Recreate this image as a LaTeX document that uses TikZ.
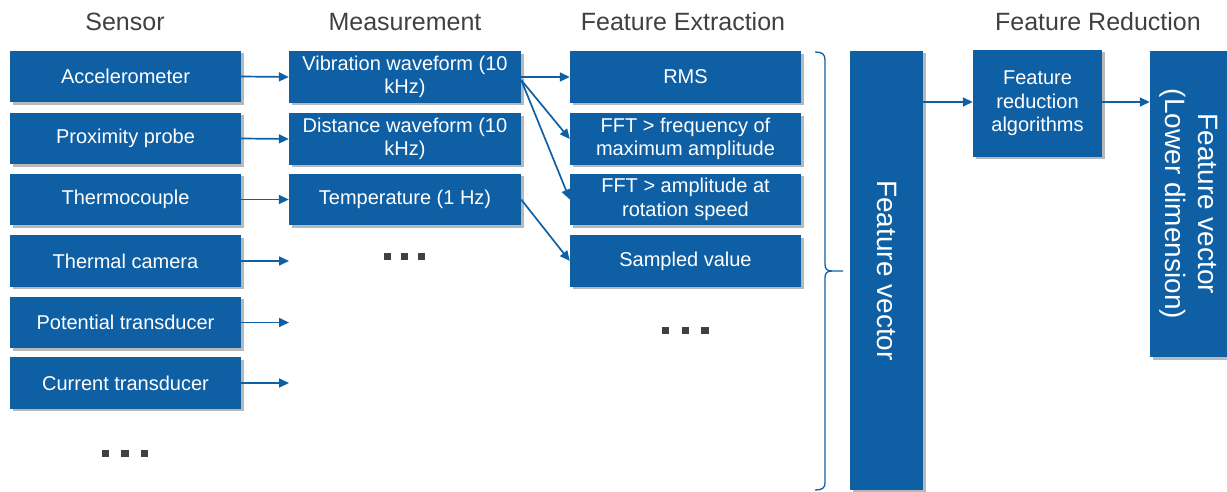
\documentclass[tikz,border=0pt]{standalone}
\usepackage{fontspec}
\setmainfont{Liberation Sans}
\usetikzlibrary{arrows.meta,shadows}
\definecolor{boxblue}{HTML}{0F5FA5}
\definecolor{headgray}{HTML}{404040}
\definecolor{dotgray}{HTML}{414141}

\begin{document}
\begin{tikzpicture}[x=1pt,y=-1pt,
  box/.style={rectangle, fill=boxblue, text=white, inner sep=0pt, align=center,
    font=\fontsize{20}{23.5}\selectfont,
    drop shadow={shadow xshift=2.5pt, shadow yshift=-2.5pt, opacity=0.28, fill=black}},
  colbox/.style={box, minimum width=231pt, minimum height=51.5pt},
  head/.style={text=headgray, inner sep=0pt, font=\fontsize{25}{30}\selectfont},
  arr/.style={draw=boxblue, line width=1.7pt, -{Triangle[length=10pt,width=9pt]}},
  vtext/.style={text=white, rotate=-90, inner sep=0pt, align=center},
  brc/.style={draw=boxblue, line width=1.3pt}]

\useasboundingbox (0,0) rectangle (1227,492);

% column headings
\node[head] (hS) at (125,22) {Sensor};
\node[head] (hM) at (405,22) {Measurement};
\node[head] (hF) at (683,22) {Feature Extraction};
\node[head] (hR) at (1098,22) {Feature Reduction};

% sensors
\node[colbox] (s1) at (125.5,76.5) {Accelerometer};
\node[colbox] (s2) at (125.5,138.5) {Proximity probe};
\node[colbox] (s3) at (125.5,199.5) {Thermocouple};
\node[colbox] (s4) at (125.5,261) {Thermal camera};
\node[colbox] (s5) at (125.5,322.5) {Potential transducer};
\node[colbox] (s6) at (125.5,383) {Current transducer};

% measurements
\node[colbox, minimum width=232pt] (m1) at (405,77) {Vibration waveform (10\\kHz)};
\node[colbox, minimum width=232pt] (m2) at (405,139) {Distance waveform (10\\kHz)};
\node[colbox, minimum width=232pt] (m3) at (405,199.5) {Temperature (1 Hz)};

% extracted features
\node[colbox] (f1) at (685.5,77) {RMS};
\node[colbox] (f2) at (685.5,139) {FFT > frequency of\\maximum amplitude};
\node[colbox] (f3) at (685.5,199.5) {FFT > amplitude at\\rotation speed};
\node[colbox] (f4) at (685.5,261) {Sampled value};

% feature vector
\node[box, minimum width=73pt, minimum height=439pt] (fv) at (886.5,270.5) {};
\node[vtext, font=\fontsize{28}{33}\selectfont] (fvt) at (fv.center) {Feature vector};

% feature reduction
\node[box, minimum width=129pt, minimum height=107pt] (fr) at (1037.5,103.5) {Feature\\reduction\\algorithms};

% reduced feature vector
\node[box, minimum width=78pt, minimum height=306pt] (fo) at (1189,204) {};
\node[vtext, font=\fontsize{28}{33}\selectfont] (fot) at (fo.center) {Feature vector\\(Lower dimension)};

% open-ended sensor outputs
\coordinate (e4) at (289,261);
\coordinate (e5) at (289,322.5);
\coordinate (e6) at (289,383);

% sensor to measurement
\draw[arr] (s1.east) -- (m1.west);
\draw[arr] (s2.east) -- (m2.west);
\draw[arr] (s3.east) -- (m3.west);
\draw[arr] (s4.east) -- (e4);
\draw[arr] (s5.east) -- (e5);
\draw[arr] (s6.east) -- (e6);

% measurement to features
\draw[arr] (m1.east) -- (f1.west);
\draw[arr] ([yshift=-3pt]m1.east) -- (f2.west);
\draw[arr] ([yshift=-3pt]m1.east) -- (f3.west);
\draw[arr] (m3.east) -- (f4.west);

% reduction chain
\draw[arr] (fv.east |- 0,102) -- (fr.west |- 0,102);
\draw[arr] (fr.east |- 0,102) -- (fo.west |- 0,102);

% brace collecting the features
\draw[brc] (815,52) .. controls (822,52) and (825,54) .. (825,60) -- (825,264)
  .. controls (825,269) and (827,271) .. (832,271) -- (843,271);
\draw[brc] (832,271) .. controls (827,271) and (825,273) .. (825,278) -- (825,483)
  .. controls (825,488) and (822,490) .. (815,490);

% continuation marks
\foreach \x in {105.5,125,144.5} \fill[dotgray] (\x-3.6,450) rectangle (\x+3.6,457.2);
\foreach \x in {387.5,404.5,421.5} \fill[dotgray] (\x-3.6,253) rectangle (\x+3.6,260.2);
\foreach \x in {665.5,685.5,705} \fill[dotgray] (\x-3.6,327) rectangle (\x+3.6,334.2);

\end{tikzpicture}
\end{document}
